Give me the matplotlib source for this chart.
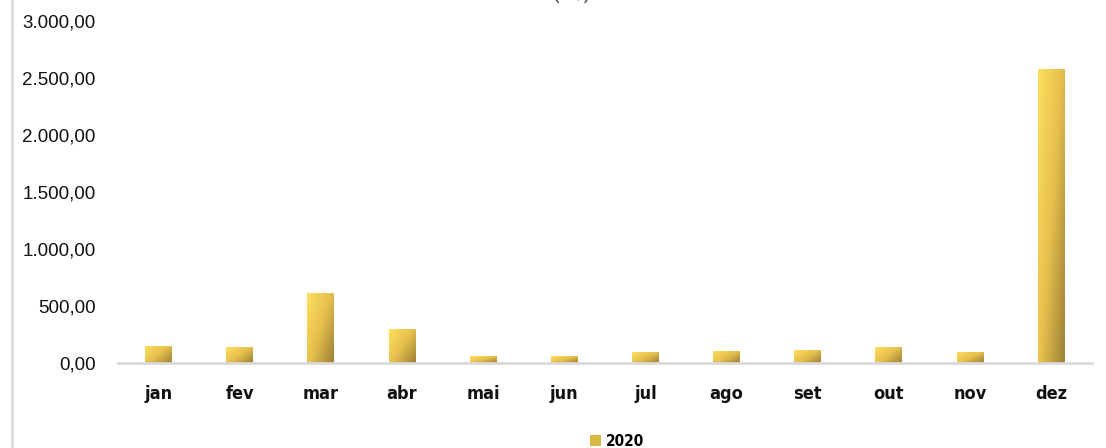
import matplotlib.pyplot as plt
import numpy as np
from matplotlib.colors import LinearSegmentedColormap
from matplotlib.patches import Patch
from matplotlib.ticker import FuncFormatter

# monthly values for 2020
meses = ['jan', 'fev', 'mar', 'abr', 'mai', 'jun', 'jul', 'ago', 'set', 'out', 'nov', 'dez']
valores = [149, 140, 614, 298, 61, 60, 96, 105, 114, 140, 96, 2579]
serie = '2020'
titulo = '(R$)'

plt.rcParams['font.family'] = ['Liberation Sans', 'DejaVu Sans']

gold = LinearSegmentedColormap.from_list('gold', ['#FDDF5E', '#E6C04E', '#9C8035'])

fig = plt.figure(figsize=(11.06, 4.48), dpi=100)
ax = fig.add_axes([0.1067, 0.1897, 0.8803, 0.7634])

x = np.arange(len(meses))
bars = ax.bar(x, valores, width=0.33, color='none', edgecolor='none', zorder=2)

# diagonal gradient inside every bar (light top-left, dark bottom-right)
u = np.linspace(0, 1, 60)
v = np.linspace(1, 0, 200)
U, V = np.meshgrid(u, v)
grad = 0.55 * U + 0.45 * (1 - V)
for b in bars:
    x0, w, h = b.get_x(), b.get_width(), b.get_height()
    im = ax.imshow(grad, extent=[x0, x0 + w, 0, h], origin='upper',
                   aspect='auto', cmap=gold, vmin=0, vmax=1, zorder=2)
    im.set_clip_path(b)

ax.set_xlim(-0.5, 11.5)
ax.set_ylim(0, 3000)
ax.set_yticks(np.arange(0, 3001, 500))
ax.yaxis.set_major_formatter(FuncFormatter(
    lambda v, p: f'{v:,.2f}'.replace(',', 'X').replace('.', ',').replace('X', '.')))
ax.set_xticks(x)
ax.set_xticklabels(meses, family='DejaVu Sans', stretch='condensed',
                   weight='bold', fontsize=13, color='#111111')

for s in ['top', 'right', 'left']:
    ax.spines[s].set_visible(False)
ax.spines['bottom'].set_color('#D9D9D9')
ax.spines['bottom'].set_linewidth(2)
ax.tick_params(axis='both', length=0)
ax.tick_params(axis='x', pad=16)
ax.tick_params(axis='y', pad=16, labelsize=13.5, labelcolor='#111111')

# chart area border on the left
fig.add_artist(plt.Line2D([0.0113, 0.0113], [0, 1], color='#D9D9D9', lw=2))

fig.text(0.517, 1.003, titulo, ha='center', va='baseline',
         fontsize=14, color='#404040')

leg = fig.legend(handles=[Patch(facecolor='#D9B846', label=serie)],
                 loc='center', bbox_to_anchor=(0.558, 0.015), frameon=False,
                 handlelength=0.7, handleheight=0.7, handletextpad=0.3,
                 prop={'family': 'DejaVu Sans', 'stretch': 'condensed',
                       'weight': 'bold', 'size': 11})

fig.savefig('out.png', dpi=100)
